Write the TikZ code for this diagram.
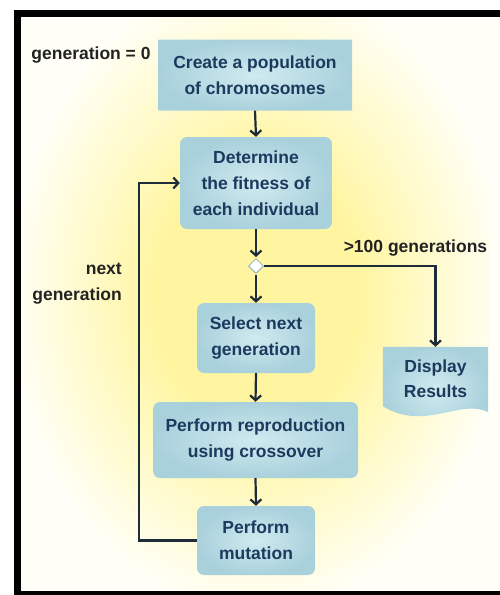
\documentclass[tikz,border=0pt]{standalone}
\usepackage{fontspec}
\setmainfont{Liberation Sans}
\usetikzlibrary{arrows.meta,shapes.geometric}
\definecolor{txtblue}{HTML}{1B3A5E}
\definecolor{boxin}{HTML}{D0EAF0}
\definecolor{boxout}{HTML}{A9D1DC}
\definecolor{linec}{HTML}{1E2C3A}
\definecolor{labc}{HTML}{222222}
\definecolor{yel}{HTML}{FFF5A0}
\definecolor{cream}{HTML}{FFFFF7}
\tikzset{
  stepbox/.style={rectangle, rounded corners=7pt, inner sep=0pt, inner color=boxin, outer color=boxout,
    text=txtblue, align=center, font=\bfseries\fontsize{17.5}{26}\selectfont},
  lab/.style={text=labc, font=\bfseries\fontsize{17.5}{26}\selectfont, inner sep=0pt},
  arr/.style={draw=linec, line width=2.2pt, -{Straight Barb[length=5pt,width=11pt]}}
}
\begin{document}
\begin{tikzpicture}[x=1pt,y=-1pt]
\useasboundingbox (0,0) rectangle (500,595);
\fill[white] (0,0) rectangle (500,595);
\begin{scope}
\clip (17,13) rectangle (500,594);
\fill[cream] (17,13) rectangle (500,594);
\foreach \i in {0,...,49}{
  \pgfmathsetmacro{\s}{1-\i/50}
  \pgfmathsetmacro{\p}{min(100,170*(1-\s))}
  \fill[yel!\p!cream] (258,295) ellipse [x radius={250*\s}, y radius={320*\s}];
}
\end{scope}
\fill[black] (14,9.5) rectangle (500,16.5);
\fill[black] (13.5,9.5) rectangle (20.5,597);
\fill[black] (13.5,590.5) rectangle (500,597);

\node[stepbox, rounded corners=1pt, minimum width=194, minimum height=71] (pop) at (255,75) {Create a population\\of chromosomes};
\node[stepbox, minimum width=152, minimum height=92] (fit) at (256,183) {Determine\\the fitness of\\each individual};
\node[diamond, draw=boxout!70!gray, fill=white, line width=1pt, minimum size=15pt, inner sep=0pt] (dec) at (256,266) {};
\node[stepbox, minimum width=118, minimum height=70] (sel) at (256,338) {Select next\\generation};
\node[stepbox, minimum width=205, minimum height=76] (rep) at (255.5,440) {Perform reproduction\\using crossover};
\node[stepbox, minimum width=118, minimum height=69] (mut) at (256,540.5) {Perform\\mutation};

\node[rectangle, minimum width=105, minimum height=64, inner sep=0pt] (disp) at (435.5,379) {};
\shade[inner color=boxin, outer color=boxout] (disp.north west) -- (disp.north east) -- ([yshift=-1pt]disp.south east)
  .. controls (460,398) and (425,432) .. ([yshift=5pt]disp.south west) -- cycle;
\node[text=txtblue, align=center, font=\bfseries\fontsize{17.5}{25}\selectfont] at (disp.center) {Display\\Results};

\node[lab] (g0) at (91,55) {generation = 0};
\node[lab] (g100) at (415.5,248) {>100 generations};
\node[lab, align=right, anchor=east] (ng) at (122,284) {next\\generation};

\draw[arr] (pop.south) -- (fit.north);
\draw[arr] (fit.south) -- ([yshift=1pt]dec.north);
\draw[arr] ([yshift=-1pt]dec.south) -- (sel.north);
\draw[arr] (sel.south) -- (rep.north);
\draw[arr] (rep.south) -- (mut.north);
\draw[arr] (dec.east) -| (disp.north);
\coordinate (loopc) at (139,540.5);
\draw[arr] (mut.west) -- (loopc) |- (fit.west);
\fill[cream] (490,16.5) rectangle (500,590.5);
\end{tikzpicture}
\end{document}
